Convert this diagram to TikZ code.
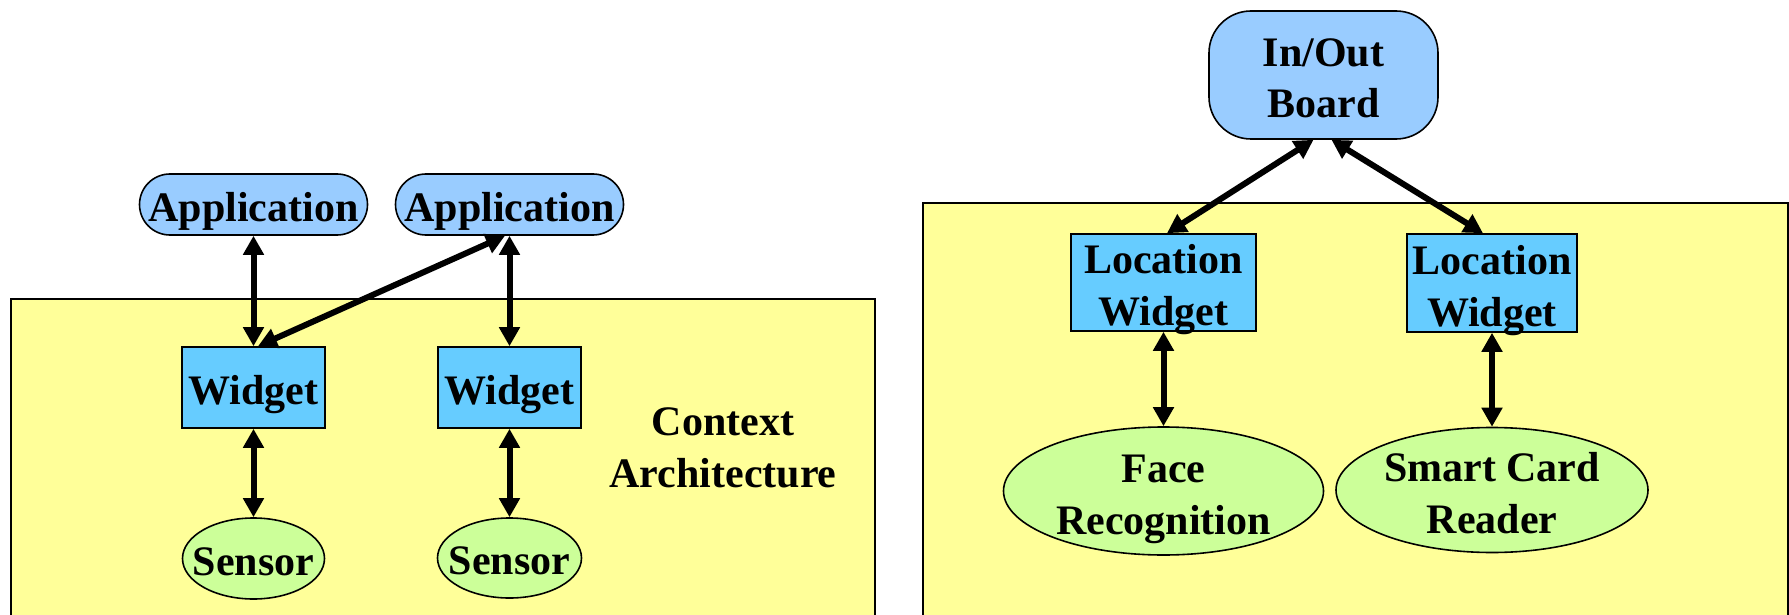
\documentclass[tikz,border=0pt]{standalone}
\usepackage{fontspec}
\setmainfont{Liberation Serif}
\usetikzlibrary{arrows.meta,shapes.geometric}
\definecolor{ylw}{HTML}{FFFF99}
\definecolor{appblue}{HTML}{99CCFF}
\definecolor{wblue}{HTML}{66CCFF}
\definecolor{sgreen}{HTML}{CCFF99}
\begin{document}
\begin{tikzpicture}[x=0.5pt,y=-0.5pt,
  base/.style={draw=black,line width=0.8pt,inner sep=0pt,align=center,text depth=0pt,
    font=\fontsize{21}{25.8}\selectfont\bfseries},
  oneline/.style={text height=16.9pt},
  twoline/.style={text height=43pt},
  appbox/.style={base,oneline,fill=appblue,rectangle,rounded corners=15.25pt,
    minimum width=114pt,minimum height=30.5pt},
  iobox/.style={base,twoline,fill=appblue,rectangle,rounded corners=21pt,
    minimum width=114.5pt,minimum height=64pt},
  wbox/.style={base,fill=wblue,rectangle},
  sens/.style={base,fill=sgreen,ellipse},
  txtlabel/.style={inner sep=0pt,align=center,font=\fontsize{21}{25.8}\selectfont\bfseries},
  link/.style={line width=3pt,{Triangle[length=9.5pt,width=10pt]}-{Triangle[length=9.5pt,width=10pt]}},
  panel/.style={line width=1pt}
]
\useasboundingbox (0,0) rectangle (1789,615);

% panels
\fill[ylw] (11,298.7) rectangle (875,615);
\draw[panel] (11,616) -- (11,298.7) -- (875,298.7) -- (875,616);
\fill[ylw] (923,202.7) rectangle (1788,615);
\draw[panel] (923,616) -- (923,202.7) -- (1788,202.7) -- (1788,616);

% left diagram
\node[appbox] (a1) at (253.5,204.5) {Application};
\node[appbox] (a2) at (509.5,204.5) {Application};
\node[wbox,oneline,minimum width=71.5pt,minimum height=40.5pt] (w1) at (253.5,387.5) {Widget};
\node[wbox,oneline,minimum width=71.5pt,minimum height=40.5pt] (w2) at (509.5,387.5) {Widget};
\node[sens,oneline,minimum width=71pt,minimum height=40.5pt] (s1) at (253.5,558.5) {\makebox[0pt]{Sensor}};
\node[sens,oneline,minimum width=72pt,minimum height=40pt] (s2) at (509.5,558) {\makebox[0pt]{Sensor}};
\node[txtlabel] (ctx) at (723,448) {Context\\Architecture};

\draw[link] (a1.south) -- (w1.north);
\draw[link] (a2.south) -- (w2.north);
\draw[link] ([xshift=-2.25pt]a2.south) -- ([xshift=2.25pt]w1.north);
\draw[link] (w1.south) -- (s1.north);
\draw[link] (w2.south) -- (s2.north);

% right diagram
\node[iobox] (io) at (1323.5,75) {In/Out\\Board};
\node[wbox,twoline,minimum width=92.5pt,minimum height=48.5pt] (lw1) at (1163.5,282.5) {Location\\Widget};
\node[wbox,twoline,minimum width=85pt,minimum height=49pt] (lw2) at (1492,283) {Location\\Widget};
\node[sens,twoline,minimum width=160pt,minimum height=64pt] (face) at (1163.5,491) {Face\\Recognition};
\node[sens,twoline,minimum width=156pt,minimum height=62.5pt] (card) at (1492,490) {Smart Card\\Reader};

\draw[link] ([xshift=-5pt]io.south) -- ([xshift=1.75pt]lw1.north);
\draw[link] ([xshift=4pt]io.south) -- ([xshift=-4.5pt]lw2.north);
\draw[link] (lw1.south) -- (face.north);
\draw[link] (lw2.south) -- (card.north);
\end{tikzpicture}
\end{document}
